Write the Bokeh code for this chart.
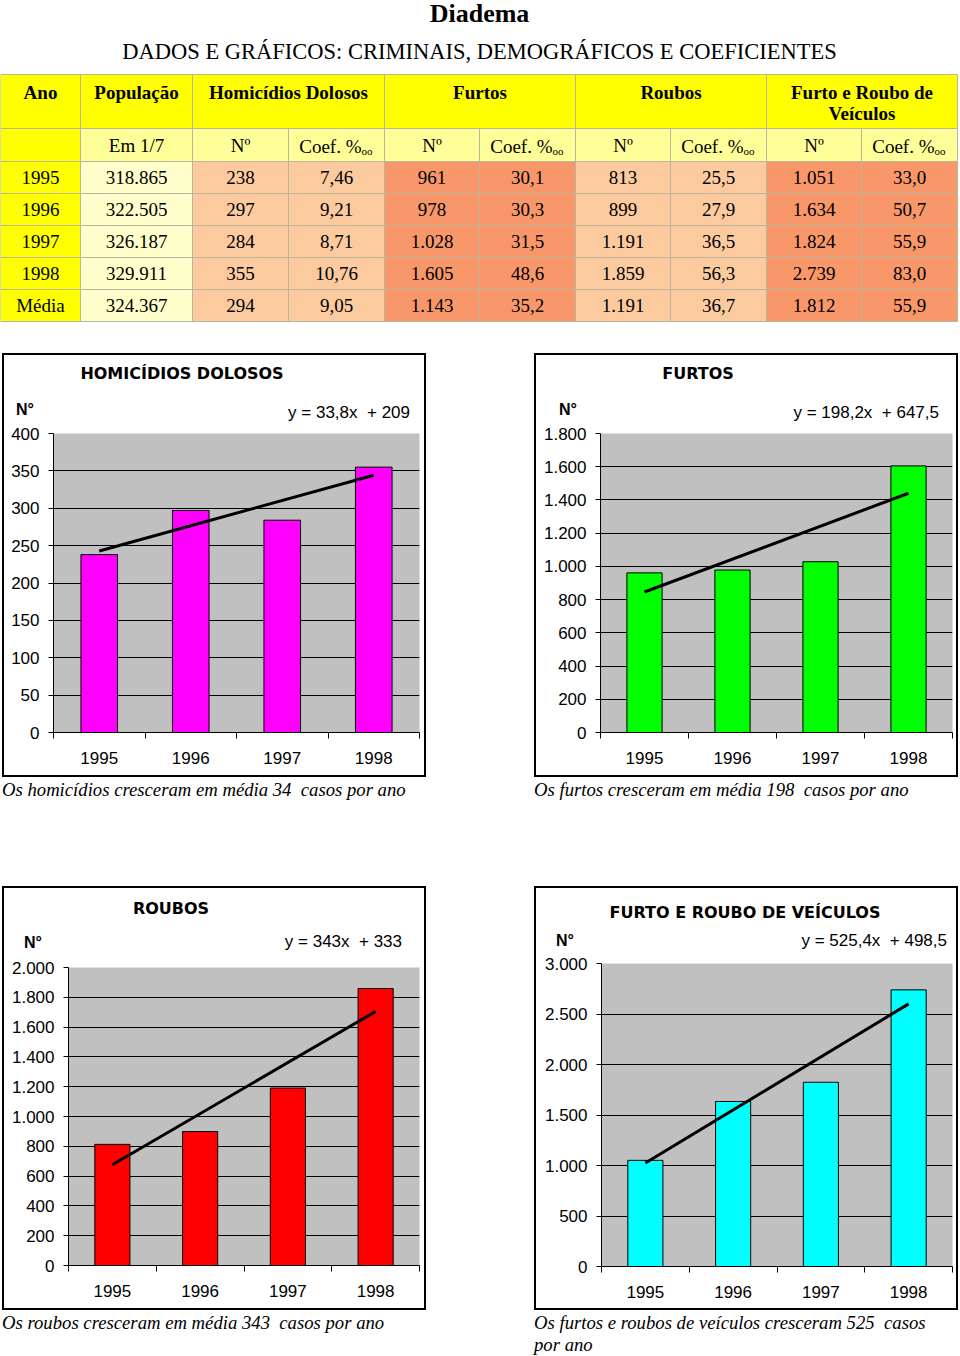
from bokeh.plotting import figure
from bokeh.models import (Range1d, FixedTicker, LinearAxis, Div, Spacer,
                          Grid, GlobalInlineStyleSheet)
from bokeh.layouts import column, row
from bokeh.core.properties import value
from bokeh.embed import file_html
from bokeh.resources import INLINE

# ---------------- data ----------------
titulo = "Diadema"
subtitulo = "DADOS E GRÁFICOS: CRIMINAIS, DEMOGRÁFICOS E COEFICIENTES"

anos_tabela = ["1995", "1996", "1997", "1998", "Média"]
populacao = ["318.865", "322.505", "326.187", "329.911", "324.367"]
hom_n = ["238", "297", "284", "355", "294"]
hom_coef = ["7,46", "9,21", "8,71", "10,76", "9,05"]
furtos_n = ["961", "978", "1.028", "1.605", "1.143"]
furtos_coef = ["30,1", "30,3", "31,5", "48,6", "35,2"]
roubos_n = ["813", "899", "1.191", "1.859", "1.191"]
roubos_coef = ["25,5", "27,9", "36,5", "56,3", "36,7"]
veic_n = ["1.051", "1.634", "1.824", "2.739", "1.812"]
veic_coef = ["33,0", "50,7", "55,9", "83,0", "55,9"]

anos_graf = ["1995", "1996", "1997", "1998"]
homicidios = [238, 297, 284, 355]
furtos = [961, 978, 1028, 1605]
roubos = [813, 899, 1191, 1859]
veiculos = [1051, 1634, 1824, 2739]

# trend line end points (1995, 1998)
tend_hom = [242.8, 344.2]
tend_furtos = [845.7, 1440.3]
tend_roubos = [676.0, 1705.0]
tend_veic = [1023.9, 2600.1]

eq_hom = "y = 33,8x&nbsp; + 209"
eq_furtos = "y = 198,2x&nbsp; + 647,5"
eq_roubos = "y = 343x&nbsp; + 333"
eq_veic = "y = 525,4x&nbsp; + 498,5"

cap_hom = "Os homicídios cresceram em média 34&nbsp; casos por ano"
cap_furtos = "Os furtos cresceram em média 198&nbsp; casos por ano"
cap_roubos = "Os roubos cresceram em média 343&nbsp; casos por ano"
cap_veic = "Os furtos e roubos de veículos cresceram 525&nbsp; casos por ano"

# ---------------- styles ----------------
SERIF = "Liberation Serif"
SANS = "Liberation Sans"
YELLOW = "#FFFF00"
LYELLOW = "#FFFF99"
POPCOL = "#FFFFCC"
PEACH = "#FBCA9F"
ORANGE = "#F8976A"
BORDER = "#BDB59A"
GRAY = "#C0C0C0"

# ---------------- table figure ----------------
TW, TH = 958, 353
t = figure(width=TW, height=TH, x_range=Range1d(0, TW), y_range=Range1d(TH, 0),
           output_backend="svg", toolbar_location=None, min_border=0,
           x_axis_type=None, y_axis_type=None)
t.grid.visible = False
t.outline_line_color = None

cx = [0, 80, 192, 288, 384, 479, 575, 670, 766, 861, 957]
hdr_top, hdr_bot, sub_bot = 74, 128, 161
row_edges = [161, 193, 225, 257, 289, 321]

L, R, T, B, C = [], [], [], [], []
groups = [(0, 1, ["Ano"]), (1, 2, ["População"]), (2, 4, ["Homicídios Dolosos"]),
          (4, 6, ["Furtos"]), (6, 8, ["Roubos"]), (8, 10, ["Furto e Roubo de", "Veículos"])]
hx, hy, htxt = [], [], []
for a, b, lines in groups:
    L.append(cx[a]); R.append(cx[b]); T.append(hdr_top); B.append(hdr_bot); C.append(YELLOW)
    for k, ln in enumerate(lines):
        hx.append((cx[a] + cx[b]) / 2); hy.append(92 + 21 * k); htxt.append(ln)
sx, sy, stxt = [], [], []
ox, oy, otxt = [], [], []
for j in range(10):
    L.append(cx[j]); R.append(cx[j + 1]); T.append(hdr_bot); B.append(sub_bot)
    C.append(YELLOW if j == 0 else LYELLOW)
    mid = (cx[j] + cx[j + 1]) / 2
    if j == 1:
        sx.append(mid); sy.append(145); stxt.append("Em 1/7")
    elif j >= 2 and j % 2 == 0:
        sx.append(mid); sy.append(145); stxt.append("Nº")
    elif j >= 2:
        ox.append(mid); oy.append(145); otxt.append("Coef. %")
colcolors = [YELLOW, POPCOL, PEACH, PEACH, ORANGE, ORANGE, PEACH, PEACH, ORANGE, ORANGE]
cols = [anos_tabela, populacao, hom_n, hom_coef, furtos_n, furtos_coef,
        roubos_n, roubos_coef, veic_n, veic_coef]
dx, dy, dtxt = [], [], []
for i in range(5):
    for j in range(10):
        L.append(cx[j]); R.append(cx[j + 1]); T.append(row_edges[i]); B.append(row_edges[i + 1])
        C.append(colcolors[j])
        dx.append((cx[j] + cx[j + 1]) / 2); dy.append((row_edges[i] + row_edges[i + 1]) / 2)
        dtxt.append(cols[j][i])

t.quad(left=L, right=R, top=T, bottom=B, fill_color=C, line_color=BORDER, line_width=1)
t.text(x=[TW / 2], y=[13], text=[titulo], text_font=value(SERIF), text_font_size="26px",
       text_font_style="bold", text_align="center", text_baseline="middle", text_color="black")
t.text(x=[TW / 2], y=[51], text=[subtitulo], text_font=value(SERIF), text_font_size="22.5px",
       text_align="center", text_baseline="middle", text_color="black")
t.text(x=hx, y=hy, text=htxt, text_font=value(SERIF), text_font_size="19px",
       text_font_style="bold", text_align="center", text_baseline="middle", text_color="black")
t.text(x=sx, y=sy, text=stxt, text_font=value(SERIF), text_font_size="19px",
       text_align="center", text_baseline="middle", text_color="black")
t.text(x=[x + 25 for x in ox], y=[y + 1 for y in oy], text=otxt, text_font=value(SERIF),
       text_font_size="19px", text_align="right", text_baseline="middle", text_color="black")
t.text(x=[x + 25 for x in ox], y=[y + 5 for y in oy], text=["oo"] * len(ox), text_font=value(SERIF),
       text_font_size="11px", text_align="left", text_baseline="middle", text_color="black")
t.text(x=dx, y=dy, text=dtxt, text_font=value(SERIF), text_font_size="19px",
       text_align="center", text_baseline="middle", text_color="black")


# ---------------- charts ----------------
def fmt(v):
    return f"{v:,}".replace(",", ".")


IN = 420  # inner size of a chart panel (without its 2px border)
BW = 2    # border width


def bar_div(w, h):
    return Div(text="", width=w, height=h, margin=(0, 0, 0, 0),
               styles={"background-color": "#000000"})


def header(title, eq, g, h):
    tx, ty = g["title"]
    nx, ny = g["n"]
    ex, ey = g["eq"]
    html = (
        f'<div style="position:relative;width:{IN}px;height:{h}px;color:#000;">'
        f'<span style="position:absolute;left:{tx - 200}px;width:400px;top:{ty - 10}px;'
        f'line-height:20px;text-align:center;font-family:\'DejaVu Sans\';font-weight:bold;'
        f'font-size:16px;white-space:nowrap;">{title}</span>'
        f'<span style="position:absolute;left:{nx - 30}px;width:60px;top:{ny - 10}px;'
        f'line-height:20px;text-align:center;font-family:\'Liberation Sans\';font-weight:bold;'
        f'font-size:16px;">N°</span>'
        f'<span style="position:absolute;right:{IN - ex}px;top:{ey - 10}px;'
        f'line-height:20px;text-align:right;font-family:\'Liberation Sans\';'
        f'font-size:17px;white-space:nowrap;">{eq}</span>'
        '</div>'
    )
    return Div(text=html, width=IN, height=h, margin=(0, 0, 0, 0),
               styles={"background-color": "white", "overflow": "hidden"})


def chart(vals, trend, ymax, step, color, title, eq, g):
    Lp, Tp, Rp, Bp = g["frame"]
    hd = Tp - 12
    H = IN - hd
    p = figure(width=IN, height=H, x_range=Range1d(-0.5, 3.5), y_range=Range1d(0, ymax),
               output_backend="svg", toolbar_location=None,
               min_border_left=Lp, min_border_right=IN - Rp, min_border_top=12,
               min_border_bottom=IN - Bp, x_axis_type=None, y_axis_type=None,
               background_fill_color=GRAY, border_fill_color="white", margin=(0, 0, 0, 0))
    p.outline_line_color = None

    ticks = list(range(0, ymax + 1, step))
    yax = LinearAxis(ticker=FixedTicker(ticks=ticks),
                     major_label_overrides={v: fmt(v) for v in ticks})
    yax.axis_line_color = "black"
    yax.major_tick_line_color = "black"
    yax.major_tick_out = 5
    yax.major_tick_in = 0
    yax.minor_tick_out = 0
    yax.minor_tick_in = 0
    yax.major_label_text_font = SANS
    yax.major_label_text_font_size = "17px"
    yax.major_label_text_color = "black"
    yax.major_label_standoff = 9
    p.add_layout(yax, "left")

    xax = LinearAxis(ticker=FixedTicker(ticks=[0, 1, 2, 3], minor_ticks=[-0.5, 0.5, 1.5, 2.5, 3.5]),
                     major_label_overrides={i: a for i, a in enumerate(anos_graf)})
    xax.axis_line_color = "black"
    xax.major_tick_out = 0
    xax.major_tick_in = 0
    xax.minor_tick_out = 6
    xax.minor_tick_in = 0
    xax.minor_tick_line_color = "black"
    xax.major_label_text_font = SANS
    xax.major_label_text_font_size = "17px"
    xax.major_label_text_color = "black"
    xax.major_label_standoff = 13
    p.add_layout(xax, "below")

    p.add_layout(Grid(dimension=1, ticker=FixedTicker(ticks=ticks[:-1]),
                      grid_line_color="black", grid_line_width=1))

    p.vbar(x=[0, 1, 2, 3], top=vals, bottom=0, width=0.4, fill_color=color,
           line_color="black", line_width=1)
    p.line(x=[0, 3], y=trend, line_color="black", line_width=3)

    inner = column(header(title, eq, g, hd), p, margin=(0, 0, 0, 0))
    return column(
        bar_div(IN + 2 * BW, BW),
        row(bar_div(BW, IN), inner, bar_div(BW, IN), margin=(0, 0, 0, 0)),
        bar_div(IN + 2 * BW, BW),
        margin=(0, 0, 0, 0),
    )


c1 = chart(homicidios, tend_hom, 400, 50, "#FF00FF", "HOMICÍDIOS DOLOSOS", eq_hom,
           {"frame": (49, 78, 415, 377), "title": (178, 19), "n": (21, 55), "eq": (406, 58)})
c2 = chart(furtos, tend_furtos, 1800, 200, "#00FF00", "FURTOS", eq_furtos,
           {"frame": (64, 78, 416, 377), "title": (162, 19), "n": (32, 55), "eq": (403, 58)})
c3 = chart(roubos, tend_roubos, 2000, 200, "#FF0000", "ROUBOS", eq_roubos,
           {"frame": (64, 79, 415, 377), "title": (167, 21), "n": (29, 55), "eq": (398, 54)})
c4 = chart(veiculos, tend_veic, 3000, 500, "#00FFFF", "FURTO E ROUBO DE VEÍCULOS", eq_veic,
           {"frame": (65, 75, 416, 378), "title": (209, 25), "n": (29, 53), "eq": (411, 53)})

cap_style = {"font-family": "Liberation Serif", "font-style": "italic", "font-size": "18.7px",
             "line-height": "22px", "color": "black", "padding-top": "2px"}


def cap(txt, h):
    return Div(text=txt, width=412, height=h, margin=(0, 0, 0, 0), styles=dict(cap_style))


root = column(
    t,
    row(Spacer(width=2, height=424), c1, Spacer(width=108, height=424), c2),
    row(Spacer(width=2, height=109), cap(cap_hom, 107), Spacer(width=120, height=109), cap(cap_furtos, 107)),
    row(Spacer(width=2, height=424), c3, Spacer(width=108, height=424), c4),
    row(Spacer(width=2, height=44), cap(cap_roubos, 42), Spacer(width=120, height=44), cap(cap_veic, 42)),
)
root.stylesheets = [GlobalInlineStyleSheet(css="body { margin: 0; }")]

open("out.html", "w").write(file_html(root, INLINE))
